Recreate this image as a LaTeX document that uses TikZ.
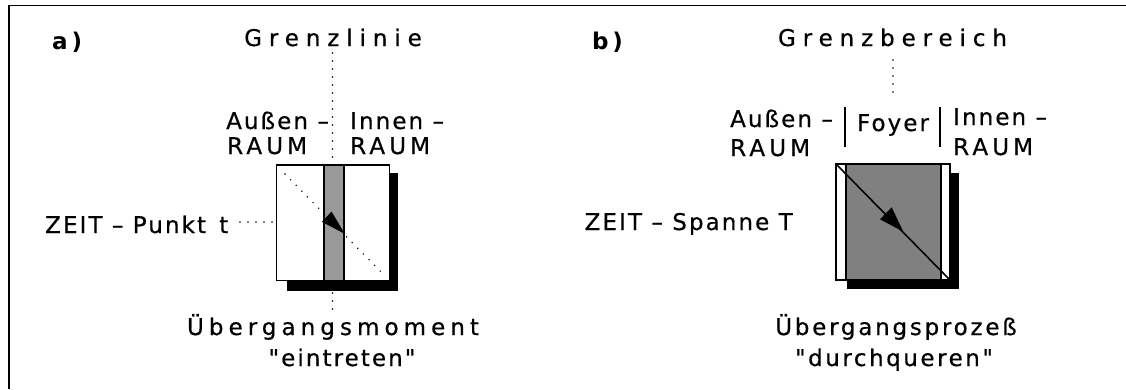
\documentclass[tikz,border=0pt]{standalone}
\usepackage{fontspec}
\setmainfont{DejaVu Sans}[LetterSpace=9, Ligatures=TeXOff, FakeBold=0.5]
\newfontfamily\headfont{DejaVu Sans}[LetterSpace=30, Ligatures=TeXOff, FakeBold=0.5]
\newfontfamily\capsfont{DejaVu Sans}[LetterSpace=18, Ligatures=TeXOff, FakeBold=0.5]
\newfontfamily\tagfont{DejaVu Sans}[LetterSpace=4, Ligatures=TeXOff]
\newcommand{\spacing}[1]{\addfontfeature{LetterSpace=#1}}
\begin{document}
\begin{tikzpicture}[x=1pt,y=-1pt,
  every node/.style={inner sep=0pt, font=\fontsize{23}{26}\selectfont},
  lbl/.style={anchor=base west},
  ctr/.style={anchor=base},
  head/.style={anchor=base, font=\fontsize{23}{26}\selectfont\headfont},
  caps/.style={anchor=base west, font=\fontsize{23}{26}\selectfont\capsfont},
  tag/.style={anchor=base west, font=\fontsize{23}{26}\selectfont\tagfont\bfseries},
  dotline/.style={line width=1.6pt, line cap=round, dash pattern=on 0pt off 8pt},
  frameline/.style={line width=1.2pt},
  boxline/.style={line width=1.2pt},
  shadow/.style={fill=black},
  bar/.style={line width=1.4pt}
]
\useasboundingbox (0,0) rectangle (1126,389);

% outer frame (top and left edges)
\draw[frameline] (9,389) -- (9,5.5) -- (1126,5.5);

% ---------------- a) Grenzlinie ----------------
\node[tag] (a-tag) at (52,49) {a\,)};
\node[head] (a-head) at (333,46) {Grenzlinie};
\node[lbl] (a-out1) at (226,129) {Außen –};
\node[caps] (a-out2) at (227,154) {RAUM};
\node[lbl] (a-in1) at (350,129) {Innen –};
\node[caps] (a-in2) at (350,154) {RAUM};
\node[lbl] (a-time) at (45,233) {ZEIT – Punkt\, t};
\node[ctr] (a-foot1) at (333,335) {\spacing{22}Übergangsmoment};
\node[ctr] (a-foot2) at (342,366) {"eintreten"};

% box with shadow and the boundary strip
\fill[shadow] (286.7,173.3) rectangle (398.3,290.7);
\draw[boxline, fill=white] (276.7,165) rectangle (389.3,280.7);
\draw[boxline, fill=black!40] (324,165) rectangle (344,280.7);
\coordinate (a-nw) at (285,174);
\coordinate (a-se) at (384,275);
\coordinate (a-top) at (332.5,163);
\coordinate (a-bot) at (332.5,293);
\coordinate (a-left) at (276,222);
\draw[dotline] (a-nw) -- (a-se);
\fill (345,234) -- (321.9,221.8) -- (331.5,211.6) -- cycle;
\draw[dotline] (332.5,53) -- (a-top);
\draw[dotline] (a-bot) -- (332.5,310);
\draw[dotline] (240,222) -- (a-left);

% ---------------- b) Grenzbereich ----------------
\node[tag] (b-tag) at (592,49) {b\,)};
\node[head] (b-head) at (892.5,46) {Grenzbereich};
\node[lbl] (b-out1) at (730,127) {Außen –};
\node[caps] (b-out2) at (730,156) {RAUM};
\node[ctr] (b-foyer) at (893,131) {Foyer};
\node[lbl] (b-in1) at (953,125) {Innen –};
\node[caps] (b-in2) at (953,155) {RAUM};
\node[lbl] (b-time) at (584.5,230) {ZEIT – Spanne T};
\node[ctr] (b-foot1) at (896,335) {\spacing{12}Übergangsprozeß};
\node[ctr] (b-foot2) at (894,366) {\spacing{11}"durchqueren"};

\draw[dotline] (893,60) -- (893,98);
\draw[bar] (845,107) -- (845,147);
\draw[bar] (940,107) -- (940,147);

\fill[shadow] (846.7,172.7) rectangle (959.3,289.3);
\draw[boxline, fill=white] (836,164) rectangle (950,280);
\draw[boxline, fill=black!50] (846,164) rectangle (941,280);
\coordinate (b-nw) at (836,164);
\coordinate (b-se) at (950,280);
\draw[line width=1.6pt] (b-nw) -- (b-se);
\fill (903.3,231.7) -- (880,219.3) -- (891.7,207.3) -- cycle;
\end{tikzpicture}
\end{document}
